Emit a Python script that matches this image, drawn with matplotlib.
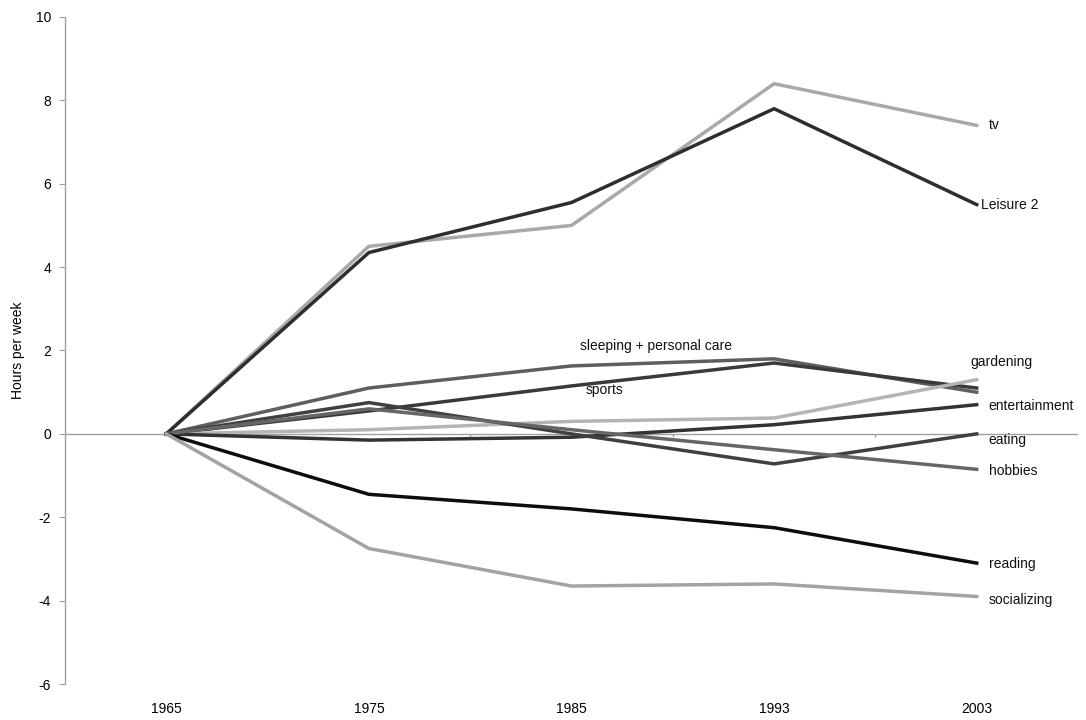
import matplotlib
matplotlib.use("Agg")
import matplotlib.pyplot as plt

years = ["1965", "1975", "1985", "1993", "2003"]

tv = [0, 4.5, 5.0, 8.4, 7.4]
leisure2 = [0, 4.35, 5.55, 7.8, 5.5]
sleeping = [0, 1.1, 1.63, 1.8, 1.0]
sports = [0, 0.55, 1.15, 1.7, 1.1]
gardening = [0, 0.1, 0.3, 0.38, 1.3]
entertainment = [0, -0.15, -0.08, 0.22, 0.7]
eating = [0, 0.75, 0.0, -0.72, 0.0]
hobbies = [0, 0.6, 0.1, -0.38, -0.85]
reading = [0, -1.45, -1.8, -2.25, -3.1]
socializing = [0, -2.75, -3.65, -3.6, -3.9]

plt.rcParams['font.family'] = ['Liberation Sans', 'DejaVu Sans']
plt.rcParams['axes.unicode_minus'] = False

fig = plt.figure(figsize=(10.86, 7.2), dpi=100)
ax = fig.add_axes([65/1086, 36/720, (1078-65)/1086, (684-17)/720])

x = list(range(len(years)))
series = [
    ("tv", tv, "#a9a9a9", (4.06, 7.4, "left")),
    ("Leisure 2", leisure2, "#2e2e2e", (4.02, 5.5, "left")),
    ("sleeping + personal care", sleeping, "#5e5e5e", (2.04, 2.1, "left")),
    ("sports", sports, "#3a3a3a", (2.07, 1.05, "left")),
    ("gardening", gardening, "#b4b4b4", (3.97, 1.72, "left")),
    ("entertainment", entertainment, "#333333", (4.06, 0.67, "left")),
    ("eating", eating, "#404040", (4.06, -0.15, "left")),
    ("hobbies", hobbies, "#666666", (4.06, -0.9, "left")),
    ("reading", reading, "#0d0d0d", (4.06, -3.13, "left")),
    ("socializing", socializing, "#a3a3a3", (4.06, -3.98, "left")),
]

ax.axhline(0, color="#a0a0a0", lw=1.0, zorder=1)
bounds = [i + 0.5 for i in range(len(years))]
ax.vlines(bounds, -0.08, 0, color="#a0a0a0", lw=1.0, zorder=1)

for name, vals, col, (lx, ly, ha) in series:
    ax.plot(x, vals, color=col, lw=2.5, solid_joinstyle="miter", zorder=3)
    ax.text(lx, ly, name, fontsize=10, ha=ha, va="center", color="#111111")

ax.set_xlim(-0.5, len(years) - 0.5)
ax.set_ylim(-6, 10)
ax.set_yticks(range(-6, 11, 2))
ax.set_xticks(x)
ax.set_xticklabels(years)
ax.tick_params(axis="x", length=0, pad=13, labelsize=10)
ax.tick_params(axis="y", length=4, color="#a0a0a0", labelsize=10, pad=6)

for s in ["top", "right", "bottom"]:
    ax.spines[s].set_visible(False)
ax.spines["left"].set_color("#a0a0a0")
ax.spines["left"].set_linewidth(1.0)

ax.set_ylabel("Hours per week", fontsize=10, labelpad=8)

fig.savefig("out.png", dpi=100)
